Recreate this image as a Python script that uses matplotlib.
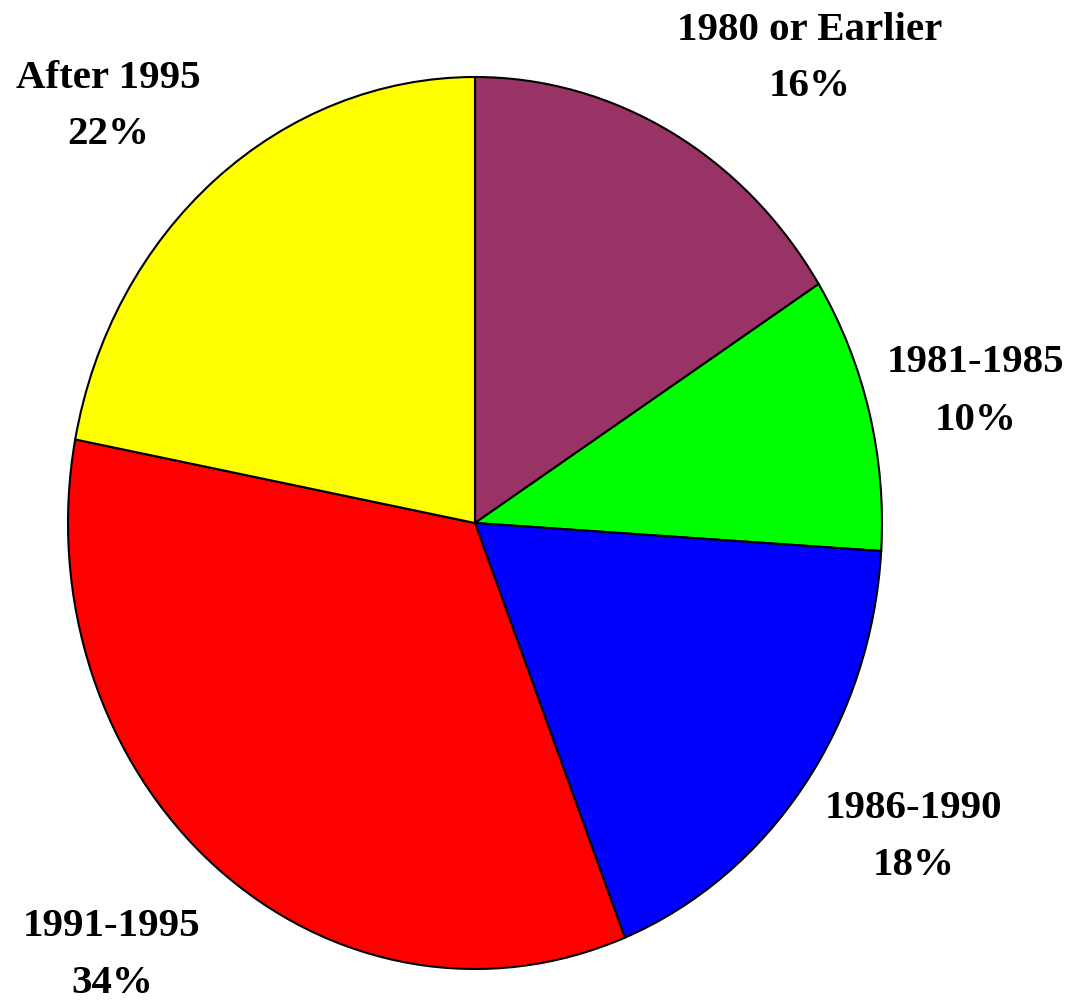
import matplotlib
matplotlib.use("Agg")
import matplotlib.pyplot as plt

categories = ["1980 or Earlier", "1981-1985", "1986-1990", "1991-1995", "After 1995"]
values = [16, 10, 18, 34, 22]
colors = ["#993366", "#00FF00", "#0000FF", "#FF0000", "#FFFF00"]

# label centre positions in pixels (x, y from top) for name line
label_pos = [(810, 30), (976, 363), (914, 809), (112, 927), (108, 78)]

W, H = 1071, 1004
fig = plt.figure(figsize=(W / 100, H / 100), dpi=100)
fig.patch.set_facecolor("white")

left, right, top, bottom = 68, 882, 78, 970
ax = fig.add_axes([left / W, (H - bottom) / H, (right - left) / W, (bottom - top) / H])
ax.pie(values, colors=colors, startangle=90, counterclock=False,
       wedgeprops=dict(edgecolor="black", linewidth=1.5), radius=1.0)
ax.set_aspect("auto")
ax.set_xlim(-1, 1)
ax.set_ylim(-1, 1)
ax.axis("off")

font = dict(family="Liberation Serif", fontweight="bold", fontsize=29.5, ha="center", va="center")
for name, v, (x, y) in zip(categories, values, label_pos):
    fig.text(x / W, 1 - y / H, name, **font)
    fig.text(x / W, 1 - (y + 57) / H, f"{v}%", **font)

fig.savefig("out.png", dpi=100, facecolor="white")
